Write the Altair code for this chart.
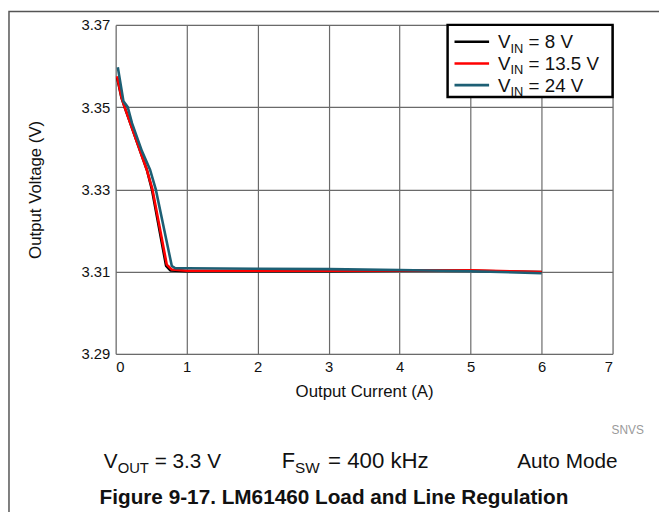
import altair as alt
import pandas as pd

# ---- data ----
current_8v = [0.02, 0.08, 0.126, 0.345, 0.44, 0.51, 0.71, 0.77, 1.0, 2.0, 3.0, 4.0, 5.0, 6.0]
vout_8v = [3.3572, 3.3524, 3.3500, 3.3393, 3.3347, 3.3300, 3.3114, 3.3103, 3.3101, 3.3101, 3.3101, 3.3102, 3.3102, 3.3099]

current_13v5 = [0.02, 0.08, 0.126, 0.345, 0.44, 0.518, 0.72, 0.79, 1.0, 2.0, 3.0, 4.0, 5.0, 6.0]
vout_13v5 = [3.3575, 3.3525, 3.3500, 3.3393, 3.3347, 3.3300, 3.3117, 3.3105, 3.3102, 3.3102, 3.3102, 3.3103, 3.3103, 3.3099]

current_24v = [0.03, 0.11, 0.17, 0.23, 0.37, 0.486, 0.565, 0.79, 0.84, 1.0, 2.0, 3.0, 4.0, 5.0, 6.0]
vout_24v = [3.3597, 3.3514, 3.3500, 3.3461, 3.3393, 3.3347, 3.3300, 3.3114, 3.3108, 3.3108, 3.3107, 3.3106, 3.3104, 3.3101, 3.3096]

series_names = ["8 V", "13.5 V", "24 V"]
series_colors = ["#000000", "#ff0000", "#1d5f74"]
x_ticks = [0, 1, 2, 3, 4, 5, 6, 7]
y_ticks = [3.29, 3.31, 3.33, 3.35, 3.37]

frames = []
for name, xs, ys in [("8 V", current_8v, vout_8v),
                     ("13.5 V", current_13v5, vout_13v5),
                     ("24 V", current_24v, vout_24v)]:
    frames.append(pd.DataFrame({"current": xs, "vout": ys, "series": name}))
df = pd.concat(frames, ignore_index=True)

FONT = "Liberation Sans"
PAD_L, PAD_T = 109, 14
W, H = 503, 333

xscale = alt.Scale(domain=[0, 7], nice=False, zero=False)
yscale = alt.Scale(domain=[3.29, 3.37], nice=False, zero=False)

xaxis = alt.Axis(values=x_ticks, title="Output Current (A)", labelFontSize=15, titleFontSize=17,
                 titleFontWeight="normal", ticks=False, domain=False, labelPadding=6, titlePadding=9,
                 grid=True, gridColor="#6a6a6a", gridWidth=1.2, labelColor="#111", titleColor="#111",
                 labelFont=FONT, titleFont=FONT)
yaxis = alt.Axis(values=y_ticks, format=".2f", title="Output Voltage (V)", labelFontSize=15,
                 titleFontSize=17, titleFontWeight="normal", ticks=False, domain=False, labelPadding=6,
                 titlePadding=37, grid=True, gridColor="#6a6a6a", gridWidth=1.2, labelColor="#111",
                 titleColor="#111", labelFont=FONT, titleFont=FONT)

base = alt.Chart(df)
one = pd.DataFrame({"a": [0]})

layers = []
# outer figure frame
layers.append(alt.Chart(one).mark_rect(fill=None, stroke="#555", strokeWidth=1.5).encode(
    x=alt.value(-PAD_L + 1), x2=alt.value(600), y=alt.value(-PAD_T + 0.5), y2=alt.value(700)))

# lines (black below, red, teal on top)
for i, name in enumerate(series_names):
    layers.append(base.transform_filter(alt.datum.series == name).mark_line(
        color=series_colors[i], strokeWidth=2.6, strokeJoin="round").encode(
        x=alt.X("current:Q", scale=xscale, axis=xaxis),
        y=alt.Y("vout:Q", scale=yscale, axis=yaxis)))

# legend box
LX = 336
layers.append(alt.Chart(one).mark_rect(fill="white", stroke="black", strokeWidth=2.5).encode(
    x=alt.value(LX), x2=alt.value(W), y=alt.value(0), y2=alt.value(73)))

row_y = [23.5, 45.5, 67.5]
for i, name in enumerate(series_names):
    ry = row_y[i]
    layers.append(alt.Chart(one).mark_rule(color=series_colors[i], strokeWidth=2.6).encode(
        x=alt.value(LX + 7), x2=alt.value(LX + 42), y=alt.value(ry - 6.5), y2=alt.value(ry - 6.5)))
    layers.append(alt.Chart(one).mark_text(text="V", font=FONT, fontSize=19, align="left",
                                           baseline="alphabetic", color="#111").encode(
        x=alt.value(LX + 51), y=alt.value(ry)))
    layers.append(alt.Chart(one).mark_text(text="IN", font=FONT, fontSize=13, align="left",
                                           baseline="alphabetic", color="#111").encode(
        x=alt.value(LX + 63.7), y=alt.value(ry + 4.5)))
    layers.append(alt.Chart(one).mark_text(text="= " + name, font=FONT, fontSize=19, align="left",
                                           baseline="alphabetic", color="#111").encode(
        x=alt.value(LX + 82), y=alt.value(ry)))


def txt(t, x, y, size, align="left", weight="normal", color="#111"):
    return alt.Chart(one).mark_text(text=t, font=FONT, fontSize=size, align=align,
                                    baseline="alphabetic", fontWeight=weight, color=color).encode(
        x=alt.value(x), y=alt.value(y))


by = 449
layers += [
    txt("SNVS", 502, 414, 12, color="#9a9a9a"),
    txt("V", -12, by, 21),
    txt("OUT", 2, by + 5, 15),
    txt("= 3.3 V", 39.5, by, 21),
    txt("F", 168, by, 22),
    txt("SW", 181.5, by + 5, 15.5),
    txt("= 400 kHz", 215, by, 22.5),
    txt("Auto Mode", 508, by, 21, align="right"),
    txt("Figure 9-17. LM61460 Load and Line Regulation", 221, 485, 21, align="center", weight="bold"),
]

chart = alt.layer(*layers).properties(
    width=W, height=H,
    autosize=alt.AutoSizeParams(type="none"),
    padding={"left": PAD_L, "top": PAD_T, "right": 659 - PAD_L - W, "bottom": 504 - PAD_T - H},
).configure_view(stroke="black", strokeWidth=3).configure(background="white")

chart.save("out.html", embed_options={"renderer": "svg", "actions": False})
